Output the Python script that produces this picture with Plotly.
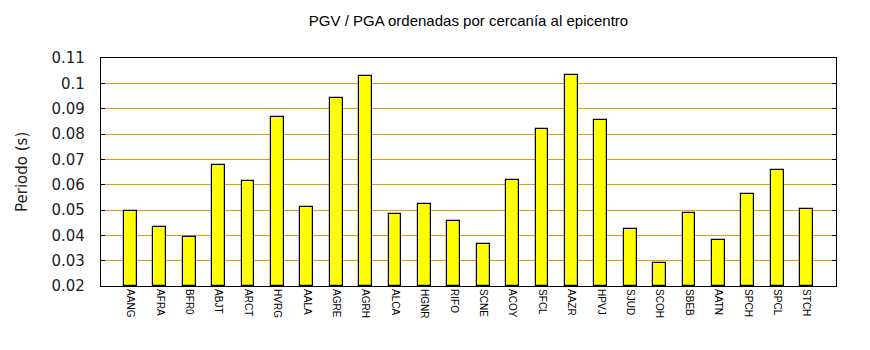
import plotly.graph_objects as go

stations = ["AANG", "AFRA", "BFR0", "ABJT", "ARCT", "HVRG", "AALA", "AGRE", "AGRH", "ALCA",
            "HGNR", "RIFO", "SCNE", "ACOY", "SFCL", "AAZR", "HPVJ", "SJUD", "SCOH", "SBEB",
            "AATN", "SPCH", "SPCL", "STCH"]
periodo = [0.0495, 0.0433, 0.0392, 0.0676, 0.0616, 0.0868, 0.0512, 0.0941, 0.1029, 0.0484,
           0.0524, 0.0457, 0.0364, 0.0620, 0.0820, 0.1032, 0.0857, 0.0424, 0.0292, 0.0488,
           0.0380, 0.0564, 0.0657, 0.0504]
y_ticks = [0.02, 0.03, 0.04, 0.05, 0.06, 0.07, 0.08, 0.09, 0.1, 0.11]

x_idx = list(range(len(stations)))

fig = go.Figure()
fig.add_trace(go.Bar(
    x=x_idx, y=[v - 0.02 for v in periodo], base=0.02,
    width=0.44,
    marker=dict(color="#FFFF00", line=dict(color="black", width=1.2)),
    hoverinfo="skip",
))

fig.update_layout(
    width=870, height=350,
    margin=dict(l=101, r=34, t=58, b=64),
    paper_bgcolor="white", plot_bgcolor="white",
    showlegend=False,
    title=dict(text="PGV / PGA ordenadas por cercanía al epicentro",
               x=(101 + 836) / 2 / 870, xanchor="center", y=1 - 21 / 350, yanchor="middle",
               font=dict(family="Liberation Sans, Arial", size=15, color="black")),
    bargap=0,
    annotations=[dict(text="Periodo (s)", x=22, xref="paper", y=0.5, yref="paper",
                      showarrow=False, textangle=-90, xanchor="center", yanchor="middle",
                      font=dict(family="DejaVu Sans", size=15, color="#222222"))],
)
# place y-title annotation in pixel terms
fig.layout.annotations[0].x = (22 - 101) / (870 - 101 - 34)
fig.update_xaxes(
    range=[-1, len(stations)], tickmode="array", tickvals=x_idx, ticktext=stations,
    tickangle=90, tickfont=dict(family="Liberation Sans, Arial", size=10, color="black"),
    showgrid=False, zeroline=False, showline=True, linecolor="black", linewidth=1.2,
    mirror=True, ticks="", ticklen=0,
)
fig.update_yaxes(
    range=[0.02, 0.11], tickmode="array", tickvals=y_ticks,
    ticktext=[("%g" % t) for t in y_ticks],
    tickfont=dict(family="DejaVu Sans", size=15, color="#222222"),
    ticklabelstandoff=12,
    showgrid=True, gridcolor="#E0A000", gridwidth=1.2,
    zeroline=False, showline=True, linecolor="black", linewidth=1.2,
    mirror="ticks", ticks="inside", ticklen=4, tickcolor="black", tickwidth=1.2,
)

fig.write_html("out.html")
